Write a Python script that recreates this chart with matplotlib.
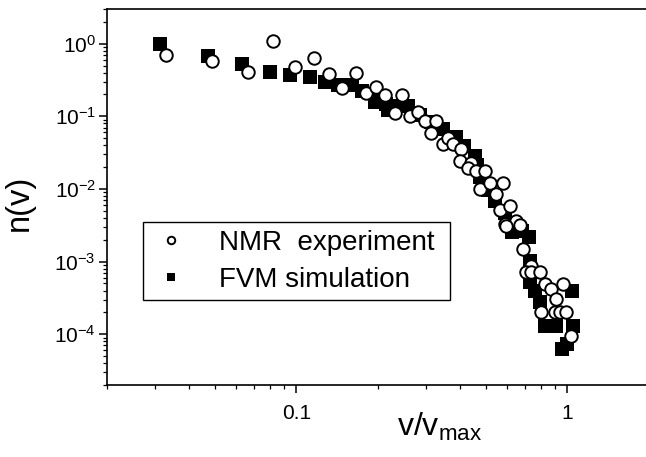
import matplotlib
matplotlib.use("Agg")
import matplotlib.pyplot as plt
from matplotlib.ticker import LogLocator, NullFormatter

plt.rcParams['font.family'] = ['Liberation Sans', 'DejaVu Sans']
plt.rcParams['mathtext.default'] = 'regular'

# NMR experiment (open circles)
nmr_v = [0.0329, 0.049, 0.0663, 0.082, 0.099, 0.116, 0.132, 0.147, 0.1655,
         0.181, 0.197, 0.212, 0.245, 0.2306, 0.262, 0.281, 0.2975, 0.3286,
         0.3148, 0.3475, 0.3626, 0.3784, 0.4064, 0.4005, 0.4424, 0.4297,
         0.4616, 0.4953, 0.4748, 0.517, 0.5785, 0.547, 0.5625, 0.6124, 0.587,
         0.648, 0.667, 0.5956, 0.686, 0.7366, 0.706, 0.7366, 0.7904, 0.8247,
         0.873, 0.9634, 0.911, 0.8017, 0.8977, 0.937, 0.9915, 1.035]
nmr_n = [0.70, 0.58, 0.41, 1.08, 0.48, 0.63, 0.38, 0.243, 0.398,
         0.208, 0.251, 0.197, 0.197, 0.111, 0.102, 0.116, 0.085, 0.085,
         0.059, 0.041, 0.050, 0.041, 0.035, 0.024, 0.0229, 0.0195,
         0.0175, 0.0175, 0.0099, 0.0122, 0.0122, 0.0084, 0.0052, 0.0058, 0.0033,
         0.0036, 0.0032, 0.0031, 0.0015, 0.00088, 0.00071, 0.00071, 0.00071, 0.00049,
         0.00042, 0.00049, 0.00031, 0.00020, 0.00020, 0.00020, 0.00020, 0.000096]

# FVM simulation (filled squares)
fvm_v = [0.0315, 0.0472, 0.063, 0.0797, 0.095, 0.112, 0.127, 0.1425, 0.16,
         0.175, 0.1945, 0.203, 0.2136, 0.217, 0.2365, 0.2575, 0.285, 0.313,
         0.3467, 0.387, 0.417, 0.455, 0.462, 0.4748, 0.508, 0.539, 0.587,
         0.622, 0.678, 0.720, 0.7257, 0.726, 0.7576, 0.79, 0.825, 0.905,
         0.952, 0.994, 1.037, 1.046]
fvm_n = [1.0, 0.67, 0.52, 0.41, 0.37, 0.35, 0.30, 0.27, 0.27,
         0.22, 0.158, 0.16, 0.148, 0.123, 0.139, 0.139, 0.105, 0.084,
         0.0674, 0.0524, 0.0395, 0.0288, 0.0217, 0.0144, 0.0098, 0.00675, 0.00461,
         0.00254, 0.00262, 0.00217, 0.00102, 0.000524, 0.000394, 0.000279, 0.000131, 0.000131,
         0.0000633, 0.000074, 0.000394, 0.000131]

fig = plt.figure(figsize=(6.46, 4.57), dpi=100)
ax = fig.add_axes([0.1656, 0.1575, 0.839, 0.8228])

sq, = ax.plot(fvm_v, fvm_n, 's', color='black', ms=9.5, mew=0, zorder=2)
ci, = ax.plot(nmr_v, nmr_n, 'o', mfc='white', mec='black', ms=9, mew=1.4, zorder=3)

ax.set_xscale('log')
ax.set_yscale('log')
ax.set_xlim(0.02, 2)
ax.set_ylim(2e-5, 3)

ax.yaxis.set_major_locator(LogLocator(base=10, numticks=10))
ax.xaxis.set_minor_formatter(NullFormatter())
ax.yaxis.set_minor_formatter(NullFormatter())
ax.set_xticks([0.1, 1])
ax.set_xticklabels(['0.1', '1'])

for s in ax.spines.values():
    s.set_linewidth(1.2)
ax.tick_params(which='major', direction='out', length=6, width=1.1, labelsize=15)
ax.tick_params(which='minor', direction='out', length=3, width=0.9)
ax.tick_params(axis='x', which='major', pad=8)
ax.tick_params(axis='y', which='major', pad=2)

ax.set_xlabel('v/v$_{max}$', fontsize=23)
ax.xaxis.set_label_coords(0.614, -0.07)
ax.set_ylabel('n(v)', fontsize=23.5)
ax.yaxis.set_label_coords(-0.133, 0.485)

leg = ax.legend([ci, sq], ['NMR  experiment', 'FVM simulation'],
                loc='upper left', bbox_to_anchor=(0.0664, 0.234, 0.5666, 0.1995),
                mode='expand', borderaxespad=0,
                fontsize=20, markerscale=0.6, handlelength=1.5, handletextpad=0.95,
                labelspacing=0.4, borderpad=0.27, fancybox=False, framealpha=1,
                edgecolor='black')
leg.get_frame().set_linewidth(1.0)

fig.savefig('out.png', dpi=100)
